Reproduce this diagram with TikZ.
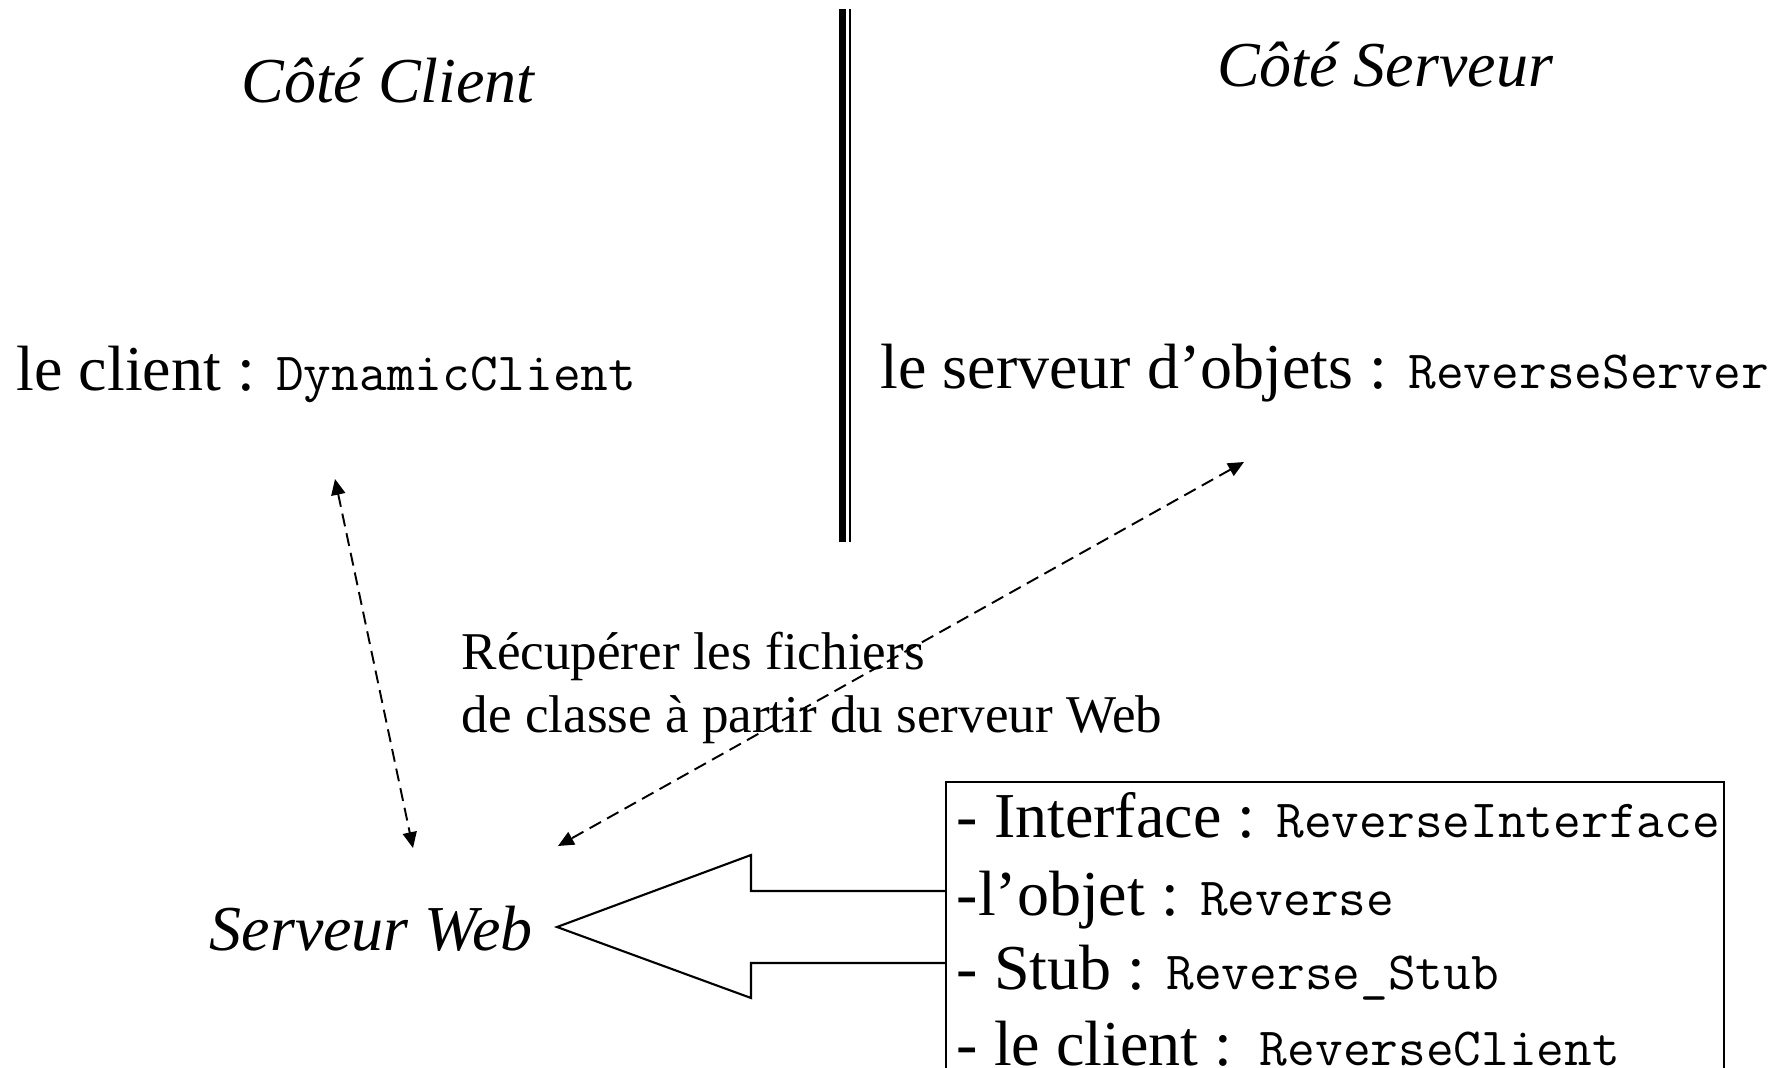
\documentclass[tikz,border=0pt]{standalone}
\usepackage{fontspec}
\setmainfont{Liberation Serif}
\usetikzlibrary{arrows.meta}
\newcommand{\javaname}[1]{{\fontsize{15.3}{18}\selectfont\ttfamily #1}}
\tikzset{
  bigtext/.style={font=\fontsize{18.2}{21}\selectfont, inner sep=0pt, anchor=base west},
  sidetitle/.style={font=\fontsize{18.2}{21}\selectfont\itshape, inner sep=0pt, anchor=base},
  labeltext/.style={font=\fontsize{15.1}{18}\selectfont, inner sep=0pt, anchor=base west},
  fetch/.style={dash pattern=on 3.7pt off 2pt, line width=0.55pt,
    {Triangle[length=4.5pt,width=4pt]}-{Triangle[length=4.5pt,width=4pt]}},
}

\begin{document}
\begin{tikzpicture}[x=0.01cm,y=-0.01cm]
                \useasboundingbox (0,0) rectangle (1788,1068);

                \node[sidetitle] (clientside) at (388,103) {Côté Client};
                \node[sidetitle] (serverside) at (1385,87) {Côté Serveur};

                \draw[line width=2pt] (842.5,9) -- (842.5,542);
                \draw[line width=0.6pt] (850,9) -- (850,542);

                \node[bigtext] (client) at (16,391) {le client : \javaname{DynamicClient}};
                \node[bigtext] (server) at (880,389) {le serveur d’objets : \javaname{ReverseServer}};

                \node[bigtext, font=\fontsize{18.2}{21}\selectfont\itshape] (web) at (209,951) {Serveur Web};

                \node[labeltext] (fetchA) at (461,670) {Récupérer les fichiers};
                \node[labeltext] (fetchB) at (461,733) {de classe à partir du serveur Web};

                \coordinate (clientend) at (335,479);
                \coordinate (webleft) at (413,848);
                \coordinate (serverend) at (1244,462);
                \coordinate (webright) at (558,846);
                \draw[fetch] (clientend) -- (webleft);
                \draw[fetch] (serverend) -- (webright);

                \draw[line width=0.6pt] (946,891) -- (751,891) -- (751,855)
                -- (557,927) -- (751,998) -- (751,963) -- (946,963);

                \draw[line width=0.5pt] (946,1068) -- (946,782) -- (1724,782) -- (1724,1068);
                \node[bigtext] (iface) at (956,838) {- Interface : \javaname{ReverseInterface}};
                \node[bigtext] (object) at (956,916) {-l’objet : \javaname{Reverse}};
                \node[bigtext] (stub) at (956,990) {- Stub : \javaname{Reverse\_Stub}};
                \node[bigtext] (rclient) at (956,1066) {- le client :\javaname{\ ReverseClient}};
            \end{tikzpicture}
\end{document}
